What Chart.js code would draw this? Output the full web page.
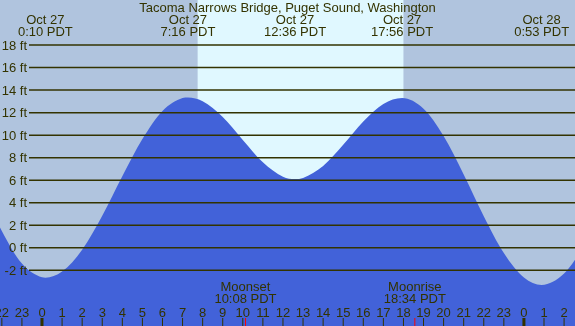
<!DOCTYPE html>
<html>
<head>
<meta charset="utf-8">
<script src="https://cdn.jsdelivr.net/npm/chart.js@4/dist/chart.umd.min.js"></script>
<style>
  html, body { margin: 0; padding: 0; background: #b0c4de; }
  #tideChart { display: block; }
</style>
</head>
<body>
<canvas id="tideChart" width="575" height="326"></canvas>
<script>
// hours from midnight Oct 27 (PDT), heights in feet
var tideHours = [-3, -2, -1, 0, 0.167, 1, 2, 3, 4, 5, 6, 7, 7.267, 8, 9, 10, 11, 12, 12.6, 13, 14, 15, 16, 17, 17.933, 19, 20, 21, 22, 23, 24, 24.883, 26, 27];
var tideFeet  = [5.3, 1.5, -1.4, -2.62, -2.65, -2.11, -0.16, 2.85, 6.35, 9.65, 12.15, 13.29, 13.35, 13.02, 11.62, 9.58, 7.59, 6.32, 6.1, 6.2, 7.26, 9.14, 11.21, 12.77, 13.3, 12.35, 9.93, 6.52, 2.81, -0.46, -2.64, -3.3, -2.29, 0.11];

var extremeHours = [0.167, 7.267, 12.6, 17.933, 24.883];
var extremeDates = ['Oct 27', 'Oct 27', 'Oct 27', 'Oct 27', 'Oct 28'];
var extremeTimes = ['0:10 PDT', '7:16 PDT', '12:36 PDT', '17:56 PDT', '0:53 PDT'];

var feetTicks = [18, 16, 14, 12, 10, 8, 6, 4, 2, 0, -2];
var hourTicks = [-2, -1, 0, 1, 2, 3, 4, 5, 6, 7, 8, 9, 10, 11, 12, 13, 14, 15, 16, 17, 18, 19, 20, 21, 22, 23, 24, 25, 26];

var sunriseHour = 7.75;
var sunsetHour = 18.0;

var moonHours = [10.133, 18.567];
var moonNames = ['Moonset', 'Moonrise'];
var moonTimes = ['10:08 PDT', '18:34 PDT'];

var title = 'Tacoma Narrows Bridge, Puget Sound, Washington';

var ink = '#333300';
var nightColor = '#b0c4de';
var dayColor = '#e0f8ff';
var tideColor = '#4262d9';
var font = '13px "Liberation Sans", Arial, sans-serif';

var tidePlugin = {
  id: 'tidePlugin',
  beforeDatasetsDraw: function (chart) {
    var ctx = chart.ctx, xs = chart.scales.x;
    ctx.save();
    ctx.fillStyle = nightColor;
    ctx.fillRect(0, 0, chart.width, chart.height);
    var x1 = xs.getPixelForValue(sunriseHour), x2 = xs.getPixelForValue(sunsetHour);
    ctx.fillStyle = dayColor;
    ctx.fillRect(x1, 0, x2 - x1, chart.height);
    ctx.restore();
  },
  afterDatasetsDraw: function (chart) {
    var ctx = chart.ctx, xs = chart.scales.x, ys = chart.scales.y;
    ctx.save();
    ctx.font = font;
    ctx.fillStyle = ink;
    ctx.strokeStyle = ink;

    // horizontal feet lines + labels
    ctx.lineWidth = 1.5;
    ctx.textAlign = 'right';
    ctx.textBaseline = 'middle';
    feetTicks.forEach(function (f) {
      var y = ys.getPixelForValue(f);
      ctx.beginPath();
      ctx.moveTo(29, y);
      ctx.lineTo(chart.width, y);
      ctx.stroke();
      ctx.fillText(f + ' ft', 27, y + 1);
    });

    // title and high/low times
    ctx.textAlign = 'center';
    ctx.textBaseline = 'alphabetic';
    ctx.fillText(title, chart.width / 2, 12);
    extremeHours.forEach(function (h, i) {
      var x = xs.getPixelForValue(h);
      ctx.fillText(extremeDates[i], x, 24);
      ctx.fillText(extremeTimes[i], x, 36);
    });

    // hour ticks along the bottom
    hourTicks.forEach(function (h) {
      var x = xs.getPixelForValue(h);
      var hr = ((h % 24) + 24) % 24;
      ctx.fillText(String(hr), x, 317);
      if (hr === 0) {
        ctx.fillRect(x - 1.5, 318, 3, 8);
      } else {
        ctx.fillRect(x - 0.5, 318, 1, 8);
      }
    });

    // moon events
    moonHours.forEach(function (h, i) {
      var x = xs.getPixelForValue(h);
      ctx.fillStyle = ink;
      ctx.fillText(moonNames[i], x, 291);
      ctx.fillText(moonTimes[i], x, 303);
      ctx.fillStyle = '#ff0000';
      ctx.fillRect(x - 0.5, 318, 1, 8);
    });
    ctx.restore();
  }
};

var tideData = tideHours.map(function (h, i) { return { x: h, y: tideFeet[i] }; });

var tideChart = new Chart(document.getElementById('tideChart').getContext('2d'), {
  type: 'line',
  data: {
    datasets: [{
      data: tideData,
      borderWidth: 0,
      borderColor: tideColor,
      backgroundColor: tideColor,
      pointRadius: 0,
      fill: 'start',
      cubicInterpolationMode: 'monotone'
    }]
  },
  options: {
    responsive: false,
    animation: false,
    devicePixelRatio: 1,
    layout: { padding: 0 },
    plugins: { legend: { display: false }, tooltip: { enabled: false } },
    scales: {
      x: { type: 'linear', min: -42 / 20.08, max: 533 / 20.08, display: false },
      y: { type: 'linear', min: -6.94, max: 22.0, display: false }
    }
  },
  plugins: [tidePlugin]
});
</script>
</body>
</html>
